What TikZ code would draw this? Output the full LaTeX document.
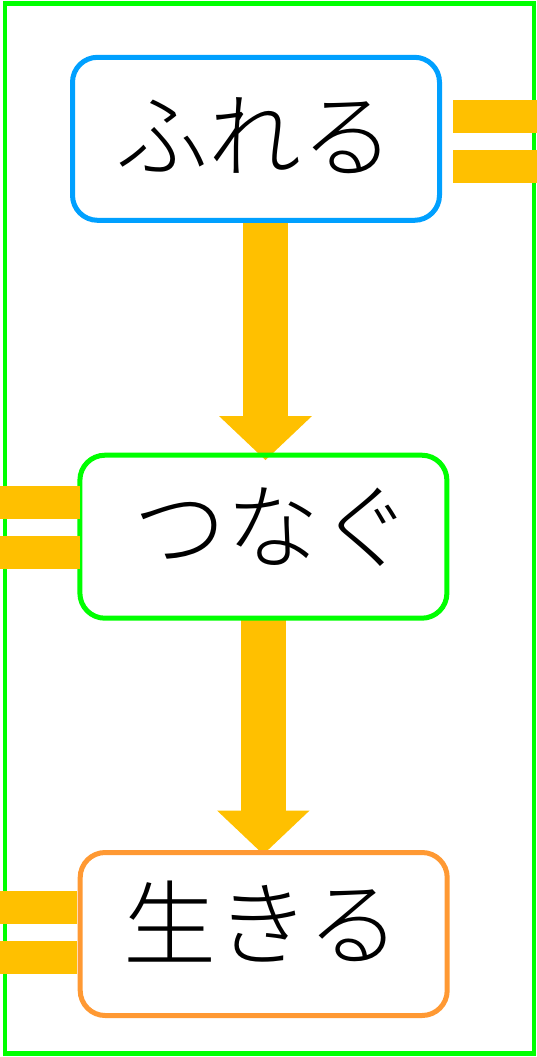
\documentclass[tikz,border=0pt]{standalone}
\usepackage{fontspec}
\IfFontExistsTF{Noto Sans CJK JP Light}
  {\newfontfamily\jpfont{Noto Sans CJK JP Light}}
  {\newfontfamily\jpfont{Noto Sans CJK JP}}
\usetikzlibrary{arrows.meta}
\definecolor{framegreen}{RGB}{0,255,0}
\definecolor{boxblue}{RGB}{0,160,255}
\definecolor{boxorange}{RGB}{255,153,51}
\definecolor{baryellow}{RGB}{255,192,0}
\begin{document}
\begin{tikzpicture}[x=1pt,y=-1pt,
  frame/.style={draw=framegreen, line width=4.5pt},
  stagebox/.style={line width=5pt, rounded corners=25pt, minimum width=362pt, minimum height=158pt, inner sep=0pt},
  stagetext/.style={inner sep=0pt, font=\jpfont\fontsize{93}{110}\selectfont},
  bar/.style={fill=baryellow, draw=none},
  bigarrow/.style={draw=baryellow, line width=45pt, -{Triangle[length=44pt,width=90pt]}}
]
\useasboundingbox (0,0) rectangle (537,1057);
% outer frame
\draw[frame] (5,3.5) rectangle (534,1053.5);
% box shapes and arrows (arrows drawn below the box borders)
\coordinate (ax1) at (265.5,0);
\coordinate (ax2) at (263.3,0);
\node[stagebox] (b1) at (256,138.8) {};
\node[stagebox] (b2) at (263.4,536.7) {};
\node[stagebox] (b3) at (263.7,934) {};
\draw[bigarrow, shorten <=-2pt, shorten >=-5pt] (b1.south -| ax1) -- (b2.north -| ax1);
\draw[bigarrow, shorten <=0pt, shorten >=-2pt] (b2.south -| ax2) -- (b3.north -| ax2);
% box borders
\draw[draw=boxblue, line width=5pt, rounded corners=25pt] (b1.south west) rectangle (b1.north east);
\draw[draw=framegreen, line width=5pt, rounded corners=25pt] (b2.south west) rectangle (b2.north east);
\draw[draw=boxorange, line width=5pt, rounded corners=25pt] (b3.south west) rectangle (b3.north east);
% texts
\node[stagetext] (t1) at (255,136) {ふれる};
\node[stagetext] (t2) at (273,527) {つなぐ};
\node[stagetext] (t3) at (262,922) {生きる};
% yellow bars
\path[bar] (452.7,100) rectangle (537,133.3);
\path[bar] (452.7,150) rectangle (537,183.3);
\path[bar] (0,485.7) rectangle (80,519);
\path[bar] (0,535.7) rectangle (80,569);
\path[bar] (0,890.7) rectangle (77,924);
\path[bar] (0,940.7) rectangle (77,974);
\end{tikzpicture}
\end{document}
